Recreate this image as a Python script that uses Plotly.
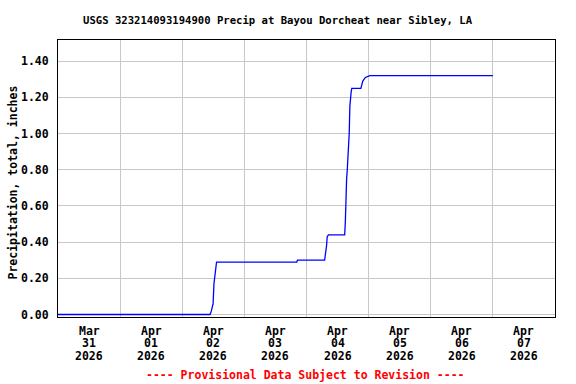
import plotly.graph_objects as go

# Cumulative precipitation readings (inches)
times = [
    "2026-03-31 00:00", "2026-04-02 10:45", "2026-04-02 11:15", "2026-04-02 11:55",
    "2026-04-02 12:15", "2026-04-02 12:45", "2026-04-02 13:15", "2026-04-02 13:45",
    "2026-04-03 20:15", "2026-04-03 20:30", "2026-04-04 07:00", "2026-04-04 07:45",
    "2026-04-04 08:00", "2026-04-04 08:30", "2026-04-04 14:45", "2026-04-04 15:00",
    "2026-04-04 15:15", "2026-04-04 15:30", "2026-04-04 15:45", "2026-04-04 16:15",
    "2026-04-04 16:30", "2026-04-04 16:45", "2026-04-04 17:00", "2026-04-04 17:15",
    "2026-04-04 17:30", "2026-04-04 21:00", "2026-04-04 21:45", "2026-04-04 22:15",
    "2026-04-04 22:45", "2026-04-05 00:30", "2026-04-07 00:00",
]
precip = [
    0.00, 0.00, 0.02, 0.06,
    0.17, 0.24, 0.29, 0.29,
    0.29, 0.30, 0.30, 0.38,
    0.43, 0.44, 0.44, 0.51,
    0.72, 0.75, 0.80, 0.93,
    1.00, 1.15, 1.21, 1.23,
    1.25, 1.25, 1.29, 1.30,
    1.31, 1.32, 1.32,
]

day_starts = ["2026-03-31", "2026-04-01", "2026-04-02", "2026-04-03", "2026-04-04",
              "2026-04-05", "2026-04-06", "2026-04-07", "2026-04-08"]
tick_dates = ["2026-03-31 12:00", "2026-04-01 12:00", "2026-04-02 12:00", "2026-04-03 12:00",
              "2026-04-04 12:00", "2026-04-05 12:00", "2026-04-06 12:00", "2026-04-07 12:00"]
tick_months = ["Mar", "Apr", "Apr", "Apr", "Apr", "Apr", "Apr", "Apr"]
tick_days = ["31", "01", "02", "03", "04", "05", "06", "07"]
tick_years = ["2026"] * 8
y_ticks = [0.0, 0.2, 0.4, 0.6, 0.8, 1.0, 1.2, 1.4]

title_text = "<b>USGS 323214093194900 Precip at Bayou Dorcheat near Sibley, LA</b>"
ytitle_text = "<b>Precipitation, total, inches</b>"
footer_text = "<b>---- Provisional Data Subject to Revision ----</b>"

FONT = "DejaVu Sans Mono"
FS = 11.5
grid = "#c8c8c8"

fig = go.Figure()
fig.add_trace(go.Scatter(x=times, y=precip, mode="lines",
                         line=dict(color="#0000ff", width=1.3), showlegend=False))

W, H = 576, 384
M_L, M_R, M_T, M_B = 58, 21, 40, 67
plot_w = W - M_L - M_R
plot_h = H - M_T - M_B


def py(pix):  # pixel-from-top -> paper y
    return (H - M_B - pix) / plot_h


def px(pix):  # pixel-from-left -> paper x
    return (pix - M_L) / plot_w


annotations = []
for rows, pix_y in ((tick_months, 330.5), (tick_days, 343.2), (tick_years, 355.8)):
    for d, t in zip(tick_dates, rows):
        annotations.append(dict(text=f"<b>{t}</b>", x=d, xref="x", y=py(pix_y), yref="paper",
                                showarrow=False, xanchor="center", yanchor="middle",
                                font=dict(family=FONT, size=FS, color="black")))
annotations.append(dict(text=ytitle_text, x=px(12), xref="paper", y=py(182.5), yref="paper",
                        textangle=-90, showarrow=False, xanchor="center", yanchor="middle",
                        font=dict(family=FONT, size=FS, color="black")))
annotations.append(dict(text=footer_text, x=px(305.5), xref="paper", y=py(375), yref="paper",
                        showarrow=False, xanchor="center", yanchor="middle",
                        font=dict(family=FONT, size=FS, color="#ff0000")))
annotations.append(dict(text=title_text, x=px(278), xref="paper", y=py(20), yref="paper",
                        showarrow=False, xanchor="center", yanchor="middle",
                        font=dict(family=FONT, size=10.6, color="black")))

fig.update_layout(
    width=W, height=H,
    margin=dict(l=M_L, r=M_R, t=M_T, b=M_B),
    paper_bgcolor="white", plot_bgcolor="white",
    font=dict(family=FONT, size=FS, color="black"),
    xaxis=dict(
        type="date", range=["2026-03-31 00:00", "2026-04-08 00:00"], automargin=False,
        tickmode="array", tickvals=day_starts, showticklabels=False,
        showgrid=True, gridcolor=grid, gridwidth=1, ticks="",
        showline=True, linecolor="black", linewidth=1, mirror=True, zeroline=False,
    ),
    yaxis=dict(
        range=[-0.0138, 1.517], automargin=False,
        tickmode="array", tickvals=y_ticks, ticktext=[f"<b>{v:.2f}</b>" for v in y_ticks],
        showgrid=True, gridcolor=grid, gridwidth=1, zeroline=False,
        ticks="outside", ticklen=6, tickcolor="rgba(0,0,0,0)",
        showline=True, linecolor="black", linewidth=1, mirror=True,
        tickfont=dict(family=FONT, size=FS, color="black"),
    ),
    annotations=annotations,
)

fig.write_html("out.html", config={"displayModeBar": False},
               post_script="document.body.style.margin='0';")
